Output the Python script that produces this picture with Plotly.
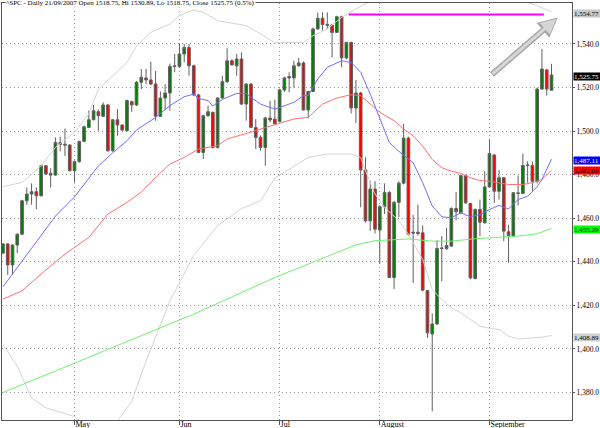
import plotly.graph_objects as go

# ---------------- data ----------------
opens = [1444.0, 1448.2, 1438.6, 1447.7, 1452.7, 1468.0, 1471.1, 1472.2, 1470.3, 1484.1,
         1480.6, 1479.8, 1494.7, 1494.0, 1493.6, 1481.8, 1486.0, 1495.3, 1501.7, 1505.2,
         1508.9, 1506.8, 1512.0, 1491.0, 1505.2, 1502.8, 1500.2, 1513.5, 1512.0, 1522.4,
         1524.4, 1523.5, 1521.6, 1506.8, 1515.2, 1517.5, 1529.7, 1529.7, 1535.4, 1538.4,
         1530.0, 1516.6, 1490.2, 1507.1, 1508.6, 1492.5, 1515.2, 1522.7, 1532.3, 1530.0,
         1533.1, 1512.4, 1521.6, 1501.7, 1497.1, 1492.5, 1506.0, 1505.5, 1504.4, 1518.9,
         1524.4, 1524.4, 1530.0, 1531.3, 1509.7, 1518.2, 1546.9, 1551.8, 1549.0, 1548.7,
         1545.3, 1552.5, 1533.6, 1540.7, 1510.6, 1517.5, 1482.2, 1458.8, 1473.4, 1454.6,
         1465.3, 1471.8, 1432.8, 1467.3, 1476.1, 1496.8, 1453.6, 1453.6, 1453.3, 1426.8,
         1406.9, 1411.5, 1446.1, 1446.0, 1447.2, 1464.5, 1462.5, 1479.6, 1466.8, 1432.3,
         1464.0, 1457.9, 1474.4, 1489.0, 1472.4, 1478.6, 1453.8, 1451.8, 1471.4, 1471.4,
         1484.2, 1484.2, 1477.0, 1519.3, 1528.1, 1518.75]
highs = [1448.6, 1448.6, 1448.0, 1453.0, 1468.5, 1474.1, 1476.0, 1474.1, 1484.5, 1484.5,
         1483.0, 1497.1, 1497.4, 1501.2, 1494.0, 1486.5, 1495.5, 1502.5, 1509.4, 1512.0,
         1510.0, 1513.2, 1512.5, 1505.5, 1510.1, 1503.0, 1514.5, 1514.0, 1523.0, 1528.5,
         1528.5, 1531.9, 1527.7, 1518.2, 1521.6, 1531.0, 1535.4, 1540.0, 1540.0, 1540.0,
         1530.5, 1517.0, 1507.5, 1511.7, 1509.0, 1515.5, 1525.4, 1538.0, 1533.0, 1535.4,
         1536.1, 1522.0, 1522.0, 1505.5, 1498.0, 1506.5, 1514.0, 1514.5, 1519.5, 1525.0,
         1527.0, 1532.3, 1533.6, 1532.0, 1518.5, 1547.5, 1554.5, 1554.5, 1554.5, 1549.0,
         1553.0, 1553.0, 1541.0, 1541.0, 1523.5, 1518.0, 1488.0, 1477.2, 1477.0, 1466.0,
         1476.0, 1472.5, 1468.0, 1477.0, 1503.3, 1497.5, 1461.5, 1466.3, 1456.7, 1427.0,
         1416.3, 1449.9, 1451.8, 1455.6, 1465.0, 1472.0, 1480.0, 1480.0, 1467.0, 1464.5,
         1468.6, 1481.6, 1496.2, 1489.5, 1482.1, 1479.0, 1457.0, 1472.0, 1479.6, 1489.7,
         1486.2, 1486.0, 1520.0, 1537.7, 1528.5, 1530.89]
lows = [1443.5, 1434.0, 1434.0, 1444.0, 1452.2, 1466.2, 1466.2, 1464.2, 1470.0, 1479.9,
        1474.1, 1479.5, 1490.7, 1488.6, 1481.5, 1476.5, 1485.5, 1495.0, 1501.5, 1505.0,
        1500.2, 1506.5, 1490.5, 1490.5, 1497.9, 1500.0, 1499.8, 1508.9, 1511.5, 1519.3,
        1521.6, 1521.0, 1504.8, 1506.5, 1509.8, 1509.4, 1527.0, 1529.0, 1531.6, 1525.4,
        1516.0, 1490.0, 1487.2, 1506.5, 1492.0, 1492.0, 1515.0, 1522.0, 1530.0, 1525.4,
        1512.0, 1504.8, 1501.5, 1491.8, 1491.0, 1484.1, 1504.0, 1503.0, 1504.0, 1518.0,
        1517.8, 1520.0, 1529.5, 1509.5, 1505.8, 1518.0, 1546.5, 1546.1, 1546.9, 1533.8,
        1545.0, 1529.3, 1533.0, 1508.1, 1503.7, 1465.0, 1458.0, 1454.3, 1453.0, 1439.2,
        1462.0, 1432.5, 1427.5, 1460.4, 1475.5, 1452.0, 1430.3, 1452.0, 1426.5, 1405.1,
        1371.4, 1411.0, 1431.1, 1445.5, 1447.0, 1459.1, 1462.0, 1466.5, 1432.0, 1432.0,
        1451.8, 1457.5, 1474.0, 1467.1, 1468.6, 1449.5, 1439.5, 1451.5, 1465.9, 1471.0,
        1476.3, 1472.4, 1476.0, 1519.0, 1516.3, 1518.75]
closes = [1448.2, 1438.6, 1447.7, 1452.7, 1468.0, 1471.1, 1472.2, 1470.3, 1484.1, 1480.3,
          1479.8, 1494.8, 1493.9, 1493.6, 1481.8, 1486.0, 1495.3, 1502.0, 1505.2, 1509.4,
          1507.1, 1512.0, 1491.0, 1505.2, 1502.8, 1500.5, 1514.0, 1512.0, 1522.4, 1524.7,
          1523.5, 1521.6, 1506.8, 1515.2, 1517.5, 1529.7, 1529.9, 1535.4, 1538.4, 1530.0,
          1516.6, 1490.2, 1507.1, 1508.9, 1492.5, 1515.2, 1522.7, 1532.3, 1530.4, 1533.1,
          1512.4, 1521.6, 1501.7, 1497.1, 1492.5, 1506.0, 1505.1, 1503.3, 1518.9, 1524.4,
          1525.0, 1530.0, 1531.3, 1509.7, 1518.2, 1546.9, 1551.8, 1548.9, 1548.6, 1545.3,
          1552.5, 1533.6, 1540.7, 1510.6, 1517.5, 1482.2, 1458.8, 1473.4, 1455.0, 1465.3,
          1471.8, 1432.8, 1467.3, 1476.1, 1496.8, 1452.7, 1453.2, 1453.0, 1427.0, 1407.4,
          1411.5, 1446.1, 1446.3, 1447.5, 1464.5, 1463.0, 1479.6, 1467.1, 1432.6, 1464.0,
          1458.2, 1474.4, 1489.7, 1472.4, 1478.6, 1454.1, 1452.1, 1471.7, 1471.6, 1484.2,
          1484.4, 1477.0, 1519.3, 1528.5, 1519.3, 1525.75]
day_index = list(range(len(closes)))

month_labels = ["May", "Jun", "Jul", "August", "September"]
month_index = [15, 37, 58, 79, 102]
price_ticks = [1380, 1400, 1420, 1440, 1460, 1480, 1500, 1520, 1540]

ma_short_x = [0, 4, 8, 11, 15, 18, 20, 23, 26, 28, 32, 35, 38, 40, 41, 43, 44, 46, 49, 51,
              52, 54, 57, 61, 63, 64, 66, 68, 71, 73, 75, 77, 79, 81, 83, 86, 88, 90, 92, 94,
              96, 98, 100, 102, 104, 106, 108, 110, 112, 113, 115]
ma_short_y = [1428.5, 1440.5, 1452.0, 1461.0, 1469.8, 1478.0, 1484.0, 1490.0, 1495.6, 1500.5,
              1506.3, 1511.7, 1515.8, 1517.0, 1515.0, 1514.0, 1511.5, 1514.5, 1517.3, 1517.3,
              1515.5, 1512.4, 1510.1, 1513.2, 1516.3, 1516.3, 1523.9, 1529.3, 1532.3, 1531.5,
              1527.0, 1517.0, 1506.3, 1494.8, 1490.7, 1485.5, 1476.3, 1465.6, 1460.7, 1460.2,
              1462.5, 1460.7, 1461.7, 1464.0, 1465.9, 1464.3, 1468.6, 1470.1, 1474.5, 1477.8,
              1487.11]

ma_mid_x = [0, 4, 8, 13, 18, 22, 26, 29, 32, 35, 38, 41, 45, 47, 51, 54, 57, 61, 64, 67,
            70, 73, 75, 77, 79, 82, 84, 86, 88, 90, 92, 94, 96, 98, 100, 102, 104, 106, 109,
            111, 113, 115]
ma_mid_y = [1422.9, 1426.7, 1434.4, 1443.6, 1451.2, 1461.9, 1467.3, 1472.0, 1478.7, 1484.9,
            1487.9, 1491.8, 1493.3, 1496.4, 1498.9, 1500.9, 1503.0, 1505.6, 1506.3, 1512.4,
            1515.2, 1516.7, 1516.3, 1512.4, 1508.6, 1504.8, 1500.9, 1497.9, 1493.1, 1487.0,
            1483.2, 1481.6, 1480.6, 1478.6, 1477.3, 1477.0, 1476.3, 1475.5, 1475.5, 1476.3,
            1477.8, 1482.09]

ma_long_x = [0, 20, 40, 57, 64, 70, 74, 78, 85, 90, 94, 99, 105, 108, 112, 115]
ma_long_y = [1380.0, 1398.0, 1416.0, 1432.8, 1439.0, 1444.3, 1447.8, 1449.7, 1450.5, 1449.5,
             1449.5, 1450.6, 1451.5, 1451.8, 1452.9, 1455.29]

band_up_x = [0, 4, 8, 11, 15, 18, 20, 23, 26, 28, 31, 35, 37, 40, 42, 45, 47, 51, 54, 57,
             60, 63, 65, 68, 71, 74, 77, 80, 85, 90, 95, 100, 105, 110, 112, 115]
band_up_y = [1474.5, 1476.4, 1484.1, 1492.5, 1499.4, 1507.9, 1519.3, 1525.4, 1531.5, 1539.0,
             1545.3, 1549.2, 1553.0, 1555.6, 1554.5, 1550.7, 1549.9, 1548.4, 1544.6, 1540.5,
             1540.7, 1540.7, 1543.8, 1546.9, 1552.2, 1556.1, 1559.5, 1566.0, 1575.0, 1580.0,
             1580.0, 1575.0, 1568.0, 1559.0, 1557.5, 1554.77]

band_lo_x = [0, 3, 6, 9, 12, 15, 18, 21, 24, 27, 30, 35, 40, 45, 50, 54, 57, 61, 64, 68, 73,
             75, 76, 78, 80, 83, 85, 88, 90, 92, 94, 96, 98, 100, 102, 104, 106, 108, 111,
             113, 115]
band_lo_y = [1402.0, 1392.0, 1377.5, 1373.0, 1371.0, 1369.0, 1363.0, 1361.0, 1367.0, 1376.0,
             1394.5, 1422.0, 1443.0, 1456.6, 1464.4, 1468.0, 1478.5, 1484.1, 1487.9, 1489.5,
             1489.5, 1487.9, 1481.8, 1471.1, 1465.0, 1458.9, 1452.7, 1441.1, 1427.3, 1422.7,
             1418.9, 1416.6, 1413.5, 1410.5, 1409.5, 1408.9, 1405.9, 1404.6, 1405.1, 1405.4,
             1406.2]

resistance_level = 1553.5
resistance_from, resistance_to = 72.5, 113.4

title_text = "^SPC - Daily 21/09/2007 Open 1518.75, Hi 1530.89, Lo 1518.75, Close 1525.75 (0.5%)"

# right-hand value tags: (text, price position, background, text colour)
tags = [
    ("1,554.77", 1554.1, "#c8c8c8", "#000000"),
    ("1,525.75", 1525.0, "#000000", "#ffffff"),
    ("1,487.11", 1486.6, "#0000ff", "#ffffff"),
    ("1,482.09", 1481.9, "#ff0000", "#000000"),
    ("1,455.29", 1455.0, "#00ff00", "#000000"),
    ("1,408.89", 1405.3, "#d0d0d0", "#000000"),
]

SERIF = "Liberation Serif"
GRID_DASH = "1px,3px"

fig = go.Figure()

fig.add_trace(go.Scatter(x=band_up_x, y=band_up_y, mode="lines",
                         line=dict(color="#d4d4d4", width=1), hoverinfo="skip", showlegend=False))
fig.add_trace(go.Scatter(x=band_lo_x, y=band_lo_y, mode="lines",
                         line=dict(color="#d4d4d4", width=1), hoverinfo="skip", showlegend=False))
fig.add_trace(go.Scatter(x=ma_long_x, y=ma_long_y, mode="lines",
                         line=dict(color="#70f070", width=1), hoverinfo="skip", showlegend=False))
fig.add_trace(go.Scatter(x=ma_mid_x, y=ma_mid_y, mode="lines",
                         line=dict(color="#ff7070", width=1), hoverinfo="skip", showlegend=False))
fig.add_trace(go.Scatter(x=ma_short_x, y=ma_short_y, mode="lines",
                         line=dict(color="#7070ff", width=1), hoverinfo="skip", showlegend=False))
fig.add_trace(go.Scatter(x=[resistance_from, resistance_to], y=[resistance_level, resistance_level],
                         mode="lines", line=dict(color="#ff00ff", width=2),
                         hoverinfo="skip", showlegend=False))

fig.add_trace(go.Candlestick(
    x=day_index, open=opens, high=highs, low=lows, close=closes,
    increasing=dict(fillcolor="#008000", line=dict(color="#606060", width=1)),
    decreasing=dict(fillcolor="#ff0000", line=dict(color="#606060", width=1)),
    whiskerwidth=0, showlegend=False, hoverinfo="skip"))

arrow_tip = (116.3, 1552.1)
arrow_tail = (102.2, 1525.4)

annotations = [
    dict(text=title_text, xref="paper", yref="paper", x=0, y=1, xanchor="left", yanchor="middle",
         xshift=3, showarrow=False, bgcolor="#ffffff", borderpad=0,
         font=dict(family=SERIF, size=7, color="#000000")),
    dict(x=arrow_tip[0], y=arrow_tip[1], ax=arrow_tail[0], ay=arrow_tail[1],
         xref="x", yref="y", axref="x", ayref="y",
         showarrow=True, arrowhead=2, arrowsize=0.65, arrowwidth=6, arrowcolor="#a8a8a8", text=""),
    dict(x=arrow_tip[0], y=arrow_tip[1], ax=arrow_tail[0], ay=arrow_tail[1],
         xref="x", yref="y", axref="x", ayref="y", standoff=2, startstandoff=1,
         showarrow=True, arrowhead=2, arrowsize=1.0, arrowwidth=3, arrowcolor="#d6d6d6", text=""),
]
for txt, pos, bg, fg in tags:
    annotations.append(dict(text=txt, xref="paper", yref="y", x=1, y=pos, xanchor="left",
                            yanchor="middle", showarrow=False, bgcolor=bg, borderpad=0,
                            xshift=1, width=27, height=7, align="left", valign="middle",
                            font=dict(family=SERIF, size=7, color=fg)))

fig.update_layout(
    width=600, height=428,
    margin=dict(l=2, r=28, t=3, b=8),
    paper_bgcolor="#ffffff", plot_bgcolor="#ffffff",
    annotations=annotations,
    boxgap=0.2,
    xaxis=dict(range=[-0.2, 119.3], rangeslider=dict(visible=False), automargin=False,
               tickmode="array", tickvals=month_index, ticktext=month_labels,
               showgrid=True, gridcolor="#9a9a9a", griddash=GRID_DASH, gridwidth=1,
               ticks="outside", ticklen=4, tickcolor="#555555",
               ticklabelposition="outside right", ticklabelstandoff=-4,
               tickfont=dict(family=SERIF, size=8, color="#000000"),
               showline=True, mirror=True, linecolor="#555555", linewidth=1, zeroline=False),
    yaxis=dict(range=[1367.4, 1558.8], side="right", tickmode="array", tickvals=price_ticks,
               automargin=False,
               tickformat=",.1f", showgrid=True, gridcolor="#9a9a9a", griddash=GRID_DASH,
               ticks="outside", ticklen=2, tickcolor="#555555", ticklabelstandoff=0,
               tickfont=dict(family=SERIF, size=7.5, color="#000000"),
               showline=True, mirror=True, linecolor="#555555", linewidth=1, zeroline=False),
)

fig.write_html("out.html", config={"displayModeBar": False},
               post_script="document.body.style.margin='0px';")
